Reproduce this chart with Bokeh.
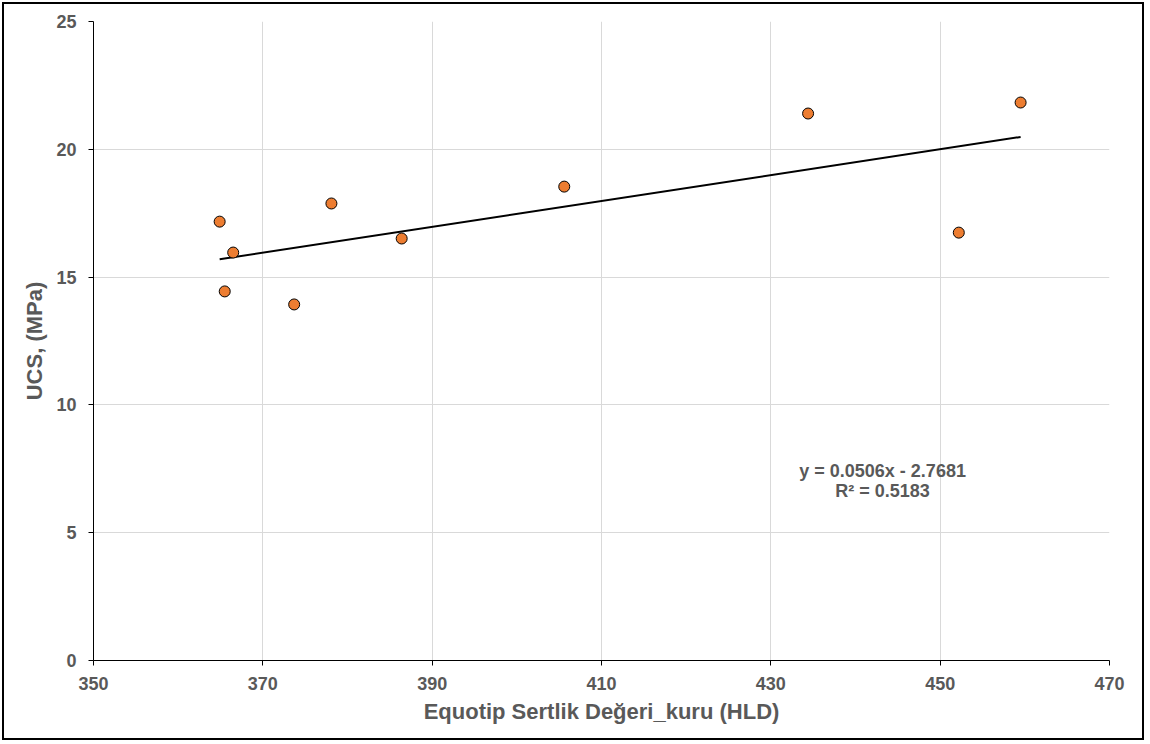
from bokeh.plotting import figure
from bokeh.models import Label, FixedTicker
from bokeh.embed import file_html
from bokeh.resources import INLINE

# Data
hld = [364.9, 365.5, 366.5, 373.7, 378.1, 386.4, 405.6, 434.4, 452.2, 459.5]
ucs = [17.17, 14.44, 15.96, 13.93, 17.88, 16.51, 18.54, 21.40, 16.74, 21.83]
slope = 0.0506
intercept = -2.7681
r2 = 0.5183
x_ticks = [350, 370, 390, 410, 430, 450, 470]
y_ticks = [0, 5, 10, 15, 20, 25]

FONT = "Liberation Sans"
GRAY = "#595959"

p = figure(width=1142, height=738, x_range=(350, 470), y_range=(0, 25),
           output_backend="svg", toolbar_location=None,
           min_border_left=89, min_border_right=37, min_border_top=17, min_border_bottom=82,
           margin=(2, 0, 0, 2),
           styles={"border": "2px solid black"})
p.outline_line_color = None
p.background_fill_color = "white"
p.border_fill_color = "white"

p.xgrid.grid_line_color = "#d9d9d9"
p.ygrid.grid_line_color = "#d9d9d9"
p.xaxis.ticker = FixedTicker(ticks=x_ticks)
p.yaxis.ticker = FixedTicker(ticks=y_ticks)
p.xgrid.ticker = FixedTicker(ticks=x_ticks)
p.ygrid.ticker = FixedTicker(ticks=y_ticks)

for ax in (p.xaxis[0], p.yaxis[0]):
    ax.axis_line_color = "black"
    ax.major_tick_line_color = "black"
    ax.major_tick_in = 0
    ax.major_tick_out = 5
    ax.minor_tick_line_color = None
    ax.major_label_text_font = FONT
    ax.major_label_text_font_style = "bold"
    ax.major_label_text_font_size = "18px"
    ax.major_label_text_color = GRAY
    ax.axis_label_text_font = FONT
    ax.axis_label_text_font_style = "bold"
    ax.axis_label_text_font_size = "22px"
    ax.axis_label_text_color = GRAY

p.xaxis.axis_label = "Equotip Sertlik Değeri_kuru (HLD)"
p.yaxis.axis_label = "UCS, (MPa)"
p.xaxis.major_label_standoff = 11
p.yaxis.major_label_standoff = 12
p.xaxis.axis_label_standoff = 6
p.yaxis.axis_label_standoff = 6

# Trend line across data extent
x0, x1 = min(hld), max(hld)
p.line([x0, x1], [slope * x0 + intercept, slope * x1 + intercept],
       line_color="black", line_width=2)

p.scatter(hld, ucs, size=11, fill_color="#ED7D31", line_color="black", line_width=1)

eq_text = f"y = {slope:.4f}x - {abs(intercept):.4f}"
r_text = f"R² = {r2:.4f}"
for txt, yy in ((eq_text, 7.40), (r_text, 6.65)):
    p.add_layout(Label(x=443.2, y=yy, text=txt, text_align="center", text_baseline="middle",
                       text_font=FONT, text_font_style="bold", text_font_size="18px",
                       text_color=GRAY))

open("out.html", "w").write(file_html(p, INLINE))
